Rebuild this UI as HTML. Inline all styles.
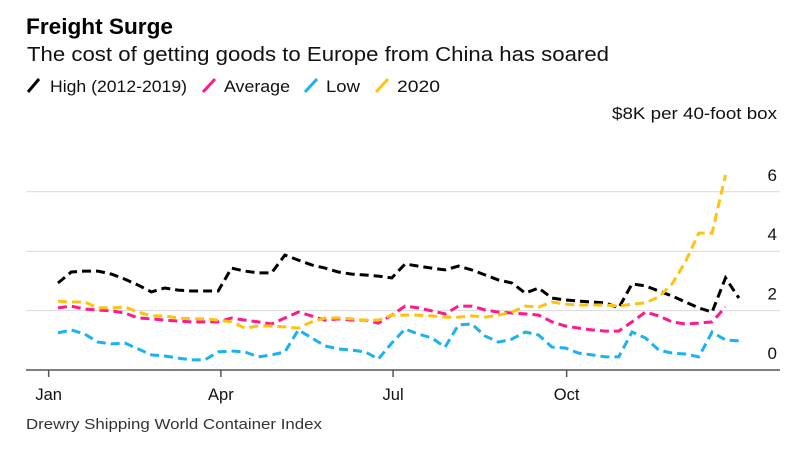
<!DOCTYPE html>
<html><head><meta charset="utf-8"><style>
body{margin:0;background:#fff;}
svg{display:block;font-family:"Liberation Sans",Arial,sans-serif;}
</style></head><body>
<svg id="chart" width="797" height="454" viewBox="0 0 797 454">
<text x="26" y="34" font-size="22" font-weight="bold" fill="#000" textLength="147" lengthAdjust="spacingAndGlyphs">Freight Surge</text>
<text x="27" y="61" font-size="20" fill="#111" textLength="582" lengthAdjust="spacingAndGlyphs">The cost of getting goods to Europe from China has soared</text>
<g font-size="16.5" fill="#111">
<g><line x1="28" y1="92" x2="39" y2="79" stroke="#000" stroke-width="3"/><text x="50" y="92" textLength="137" lengthAdjust="spacingAndGlyphs">High (2012-2019)</text></g>
<g><line x1="203" y1="92" x2="215" y2="79" stroke="#ff1a8c" stroke-width="3"/><text x="224" y="92" textLength="66" lengthAdjust="spacingAndGlyphs">Average</text></g>
<g><line x1="305" y1="92" x2="317" y2="79" stroke="#1ab2f0" stroke-width="3"/><text x="326" y="92" textLength="34" lengthAdjust="spacingAndGlyphs">Low</text></g>
<g><line x1="376" y1="92" x2="388" y2="79" stroke="#ffc20e" stroke-width="3"/><text x="397" y="92" textLength="43" lengthAdjust="spacingAndGlyphs">2020</text></g>
</g>
<text x="612" y="119" font-size="16.5" fill="#111" textLength="165" lengthAdjust="spacingAndGlyphs">$8K per 40-foot box</text>
<g id="grid"></g>
<g id="series"></g>
<g id="xaxis"></g>
<text x="26" y="429" font-size="15" fill="#333" textLength="296" lengthAdjust="spacingAndGlyphs">Drewry Shipping World Container Index</text>
</svg>
<script>
const weeksStart = 0;
const high = [2.93,3.30,3.33,3.33,3.23,3.06,2.86,2.63,2.76,2.69,2.66,2.66,2.66,3.43,3.33,3.27,3.27,3.87,3.70,3.54,3.43,3.30,3.23,3.20,3.16,3.10,3.57,3.50,3.43,3.37,3.50,3.37,3.20,3.03,2.93,2.59,2.76,2.42,2.36,2.32,2.29,2.26,2.09,2.90,2.83,2.66,2.49,2.29,2.09,1.95,3.10,2.42];
const average = [2.09,2.15,2.05,2.02,1.99,1.92,1.75,1.72,1.68,1.65,1.62,1.62,1.62,1.75,1.68,1.62,1.55,1.75,1.95,1.82,1.68,1.72,1.68,1.68,1.58,1.85,2.15,2.09,1.99,1.89,2.15,2.15,2.02,1.95,1.92,1.89,1.85,1.62,1.48,1.41,1.35,1.31,1.31,1.62,1.95,1.82,1.62,1.55,1.58,1.62,2.12];
const low = [1.25,1.35,1.21,0.94,0.88,0.91,0.71,0.51,0.47,0.40,0.34,0.34,0.61,0.64,0.61,0.44,0.51,0.61,1.35,1.08,0.81,0.71,0.67,0.61,0.37,0.91,1.38,1.21,1.08,0.77,1.52,1.55,1.14,0.94,1.04,1.28,1.18,0.77,0.74,0.57,0.51,0.44,0.44,1.28,1.08,0.67,0.57,0.54,0.44,1.28,1.01,0.98];
const y2020 = [2.32,2.29,2.29,2.09,2.09,2.12,1.95,1.82,1.82,1.75,1.72,1.72,1.68,1.62,1.41,1.48,1.48,1.45,1.41,1.62,1.75,1.75,1.72,1.68,1.68,1.85,1.85,1.85,1.82,1.78,1.78,1.82,1.78,1.85,1.95,2.15,2.12,2.29,2.22,2.19,2.19,2.19,2.15,2.22,2.26,2.46,2.90,3.64,4.61,4.61,6.57];
const yTicks = [0,2,4,6];
const monthLabels = ["Jan","Apr","Jul","Oct"];
const monthWeeks = [-0.7,12.2,25.1,38.1];

const NS="http://www.w3.org/2000/svg";
function xs(w){return 58+13.35*w;}
function ys(v){return 370-29.7*v;}
const grid=document.getElementById('grid');
yTicks.forEach(t=>{
  if(t>0){const l=document.createElementNS(NS,'line');
  l.setAttribute('x1',26);l.setAttribute('x2',780);l.setAttribute('y1',ys(t));l.setAttribute('y2',ys(t));
  l.setAttribute('stroke','#d9d9d9');l.setAttribute('stroke-width','1');
  
  
  grid.appendChild(l);}
  const tx=document.createElementNS(NS,'text');
  tx.setAttribute('x',777);tx.setAttribute('y',ys(t)-11);tx.setAttribute('text-anchor','end');
  tx.setAttribute('font-size','17');tx.setAttribute('fill','#111');tx.textContent=t;
  
  
  grid.appendChild(tx);
});
const series=document.getElementById('series');
function draw(arr,color,name){
  const p=document.createElementNS(NS,'polyline');
  p.setAttribute('points',arr.map((v,i)=>xs(weeksStart+i).toFixed(1)+','+ys(v).toFixed(1)).join(' '));
  p.setAttribute('fill','none');p.setAttribute('stroke',color);p.setAttribute('stroke-width','3');
  p.setAttribute('stroke-dasharray','9 5');
  
  
  series.appendChild(p);
}
draw(low,'#1ab2f0','series-low');
draw(average,'#ff1a8c','series-average');
draw(high,'#000','series-high');
draw(y2020,'#ffc20e','series-2020');
const xa=document.getElementById('xaxis');
const ax=document.createElementNS(NS,'line');
ax.setAttribute('x1',26);ax.setAttribute('x2',780);ax.setAttribute('y1',370);ax.setAttribute('y2',370);
ax.setAttribute('stroke','#555');ax.setAttribute('stroke-width','1.5');


xa.appendChild(ax);
monthLabels.forEach((m,i)=>{
  const x=xs(monthWeeks[i]);
  const t=document.createElementNS(NS,'line');
  t.setAttribute('x1',x);t.setAttribute('x2',x);t.setAttribute('y1',370);t.setAttribute('y2',377);
  t.setAttribute('stroke','#555');t.setAttribute('stroke-width','1.5');
  
  
  xa.appendChild(t);
  const tx=document.createElementNS(NS,'text');
  tx.setAttribute('x',x);tx.setAttribute('y',400);tx.setAttribute('text-anchor','middle');
  tx.setAttribute('font-size','16.5');tx.setAttribute('fill','#111');tx.textContent=m;
  
  
  xa.appendChild(tx);
});
</script>
</body></html>
